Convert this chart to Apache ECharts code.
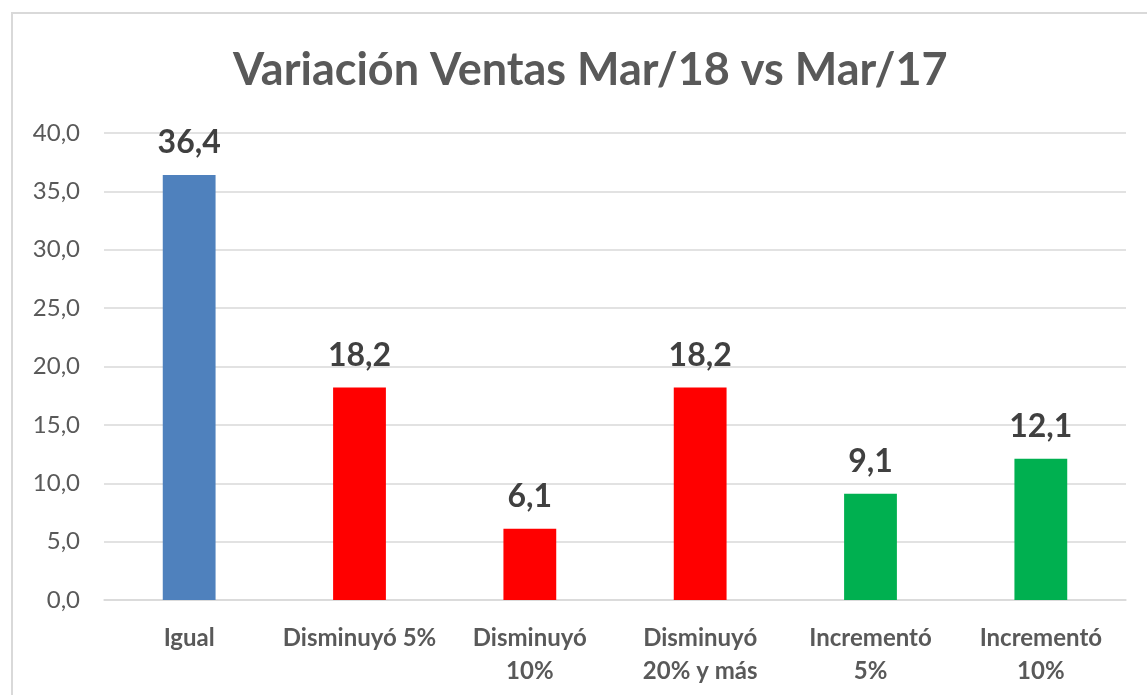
<!DOCTYPE html>
<html>
<head>
<meta charset="utf-8">
<script src="https://cdn.jsdelivr.net/npm/echarts@6/dist/echarts.min.js"></script>
<style>
  html, body { margin: 0; padding: 0; background: #fff; }
  #chart { width: 1147px; height: 695px; }
</style>
</head>
<body>
<div id="chart"></div>
<script>
// datos
var categories = ['Igual', 'Disminuyó 5%', 'Disminuyó\n10%', 'Disminuyó\n20% y más', 'Incrementó\n5%', 'Incrementó\n10%']
var values = [36.4, 18.2, 6.1, 18.2, 9.1, 12.1]
var barColors = ['#4F81BD', '#FF0000', '#FF0000', '#FF0000', '#00B050', '#00B050']
var yTicks = { min: 0, max: 40, interval: 5 }

var fontFamily = 'Lato, "Noto Sans", sans-serif'

function coma(v) {
  return Number(v).toFixed(1).replace('.', ',')
}

var chart = echarts.init(document.getElementById('chart'))

var option = {
  backgroundColor: '#ffffff',
  animation: false,
  textStyle: { fontFamily: fontFamily },
  graphic: [
    {
      type: 'rect',
      shape: { x: 12, y: 13, width: 1300, height: 900 },
      style: { fill: 'none', stroke: '#D9D9D9', lineWidth: 2 },
      silent: true
    }
  ],
  title: {
    text: 'Variación Ventas Mar/18 vs Mar/17',
    left: 228,
    top: 43,
    textStyle: {
      fontFamily: fontFamily,
      fontSize: 45,
      fontWeight: 'bold',
      color: '#595959'
    }
  },
  grid: {
    left: 104,
    right: 21,
    top: 133,
    bottom: 95
  },
  xAxis: {
    type: 'category',
    data: categories,
    axisLine: { lineStyle: { color: '#D9D9D9', width: 1.5 } },
    axisTick: { show: false },
    axisLabel: {
      interval: 0,
      margin: 22,
      fontSize: 24,
      lineHeight: 33,
      fontWeight: 'bold',
      color: '#595959',
      fontFamily: fontFamily
    }
  },
  yAxis: {
    type: 'value',
    min: yTicks.min,
    max: yTicks.max,
    interval: yTicks.interval,
    axisLine: { show: false },
    axisTick: { show: false },
    splitLine: { lineStyle: { color: '#D9D9D9', width: 1.5 } },
    axisLabel: {
      margin: 24,
      fontSize: 24,
      color: '#595959',
      fontFamily: fontFamily,
      formatter: coma
    }
  },
  series: [
    {
      type: 'bar',
      barWidth: '31%',
      data: values.map(function (v, i) {
        return { value: v, itemStyle: { color: barColors[i] } }
      }),
      label: {
        show: true,
        position: 'top',
        distance: 16,
        fontSize: 32,
        fontWeight: 'bold',
        color: '#404040',
        fontFamily: fontFamily,
        formatter: function (p) { return coma(p.value) }
      }
    }
  ]
}

chart.setOption(option)
window.addEventListener('resize', function () {
  chart.resize()
})
</script>
</body>
</html>
